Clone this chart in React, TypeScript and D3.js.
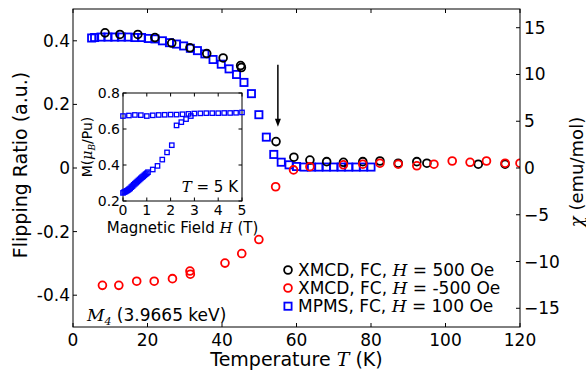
import React from 'react';
import * as d3 from 'd3';

// XMCD, FC, H = 500 Oe (flipping ratio, left axis)
const posT = [8.6, 12.6, 17.4, 22.0, 26.5, 31.4, 35.9, 40.3, 45.0, 45.2, 54.5, 59.3, 63.6, 68.1, 72.6, 77.8, 82.4, 87.3, 92.3, 95.0, 108.8, 116.0];
const posR = [0.425, 0.42, 0.42, 0.41, 0.393, 0.378, 0.36, 0.346, 0.322, 0.316, 0.083, 0.034, 0.025, 0.02, 0.018, 0.02, 0.022, 0.015, 0.02, 0.015, 0.012, 0.012];

// XMCD, FC, H = -500 Oe
const negT = [7.9, 12.3, 17.1, 21.8, 26.7, 31.4, 31.5, 40.8, 45.3, 49.9, 54.4, 59.2, 63.6, 72.6, 77.8, 82.4, 87.3, 92.3, 96.9, 101.8, 106.6, 111.0, 116.0, 120.0];
const negR = [-0.369, -0.369, -0.356, -0.356, -0.348, -0.324, -0.334, -0.299, -0.269, -0.225, -0.059, -0.006, 0.004, 0.01, 0.012, 0.015, 0.012, 0.007, 0.012, 0.022, 0.018, 0.022, 0.015, 0.015];

// MPMS, FC, H = 100 Oe (chi, right axis)
const mpmsT = [5.0, 5.8, 7.5, 9.4, 11.2, 13.0, 14.8, 16.6, 18.4, 20.2, 22.0, 24.0, 25.9, 27.8, 29.7, 31.5, 33.4, 35.4, 37.6, 39.8, 41.9, 43.9, 45.9, 47.9, 49.9, 51.9, 53.9, 55.9, 58.0, 60.0, 62, 64, 66, 68, 70, 72, 74, 76, 78, 80];
const mpmsChi = [13.9, 13.95, 14.0, 14.0, 14.0, 14.0, 14.0, 13.95, 13.95, 13.85, 13.8, 13.6, 13.4, 13.25, 13.05, 12.8, 12.55, 12.2, 11.6, 11.1, 10.6, 10.0, 9.15, 7.95, 5.7, 3.3, 1.45, 0.62, 0.34, 0.16, 0.1, 0.1, 0.1, 0.1, 0.1, 0.1, 0.1, 0.1, 0.1, 0.1];

// inset M(H) at T = 5 K
const upH = [0, 0.25, 0.5, 0.75, 1.0, 1.25, 1.5, 1.75, 2.0, 2.25, 2.5, 2.75, 3.0, 3.25, 3.5, 3.75, 4.0, 4.25, 4.5, 4.75, 5.0];
const upM = [0.672, 0.675, 0.678, 0.677, 0.672, 0.676, 0.678, 0.679, 0.68, 0.68, 0.682, 0.684, 0.686, 0.687, 0.688, 0.688, 0.688, 0.689, 0.689, 0.69, 0.692];
const virginH = [0, 0.05, 0.1, 0.15, 0.2, 0.25, 0.3, 0.35, 0.4, 0.45, 0.5, 0.55, 0.6, 0.65, 0.7, 0.75, 0.8, 0.85, 0.9, 0.95, 1.0, 1.05, 1.25, 1.45, 1.65, 1.85, 2.05, 2.25, 2.45, 2.65, 2.85];
const virginM = [0.245, 0.25, 0.252, 0.256, 0.26, 0.265, 0.27, 0.277, 0.283, 0.29, 0.296, 0.302, 0.308, 0.314, 0.32, 0.326, 0.332, 0.337, 0.343, 0.349, 0.354, 0.36, 0.375, 0.395, 0.43, 0.47, 0.51, 0.62, 0.638, 0.655, 0.672];

const xTicks = [0, 20, 40, 60, 80, 100, 120];
const leftTicks = [-0.4, -0.2, 0, 0.2, 0.4];
const rightTicks = [-15, -10, -5, 0, 5, 10, 15];
const insetXTicks = [0, 1, 2, 3, 4, 5];
const insetYTicks = [0.2, 0.4, 0.6, 0.8];

const SANS = 'DejaVu Sans';
const SERIF = 'DejaVu Serif';

const x = d3.scaleLinear().domain([0, 120]).range([73, 520]);
const yL = d3.scaleLinear().domain([-0.5, 0.5]).range([327, 9]);
const yR = d3.scaleLinear().domain([-17, 17]).range([327, 9]);
const ix = d3.scaleLinear().domain([0, 5]).range([123, 242]);
const iy = d3.scaleLinear().domain([0.2, 0.8]).range([201, 93]);

const fmtL = (v: number) => (v === 0 ? '0' : v.toFixed(1));
const fmtR = (v: number) => (v < 0 ? '\u2212' + Math.abs(v) : String(v));

export default function App() {
  const [x0, x1] = x.range();
  const [yb, yt] = yL.range();
  const [ix0, ix1] = ix.range();
  const [iyb, iyt] = iy.range();
  const tl = 4;
  const arrowX = x(55);
  const arrowTop = yL(0.325);
  const arrowTip = yL(0.13);

  return (
    <svg width={586} height={371} style={{ position: 'absolute', left: 0, top: 0, background: 'white' }}>
      <defs>
        <clipPath id="main-clip">
          <rect x={x0} y={yt} width={x1 - x0} height={yb - yt} />
        </clipPath>
      </defs>

      {/* data */}
      <g clipPath="url(#main-clip)" fill="none" strokeWidth={1.8}>
        {mpmsT.map((t, i) => (
          <rect key={'m' + i} x={x(t) - 3.6} y={yR(mpmsChi[i]) - 3.6} width={7.2} height={7.2} stroke="#0000ff" />
        ))}
        {posT.map((t, i) => (
          <circle key={'p' + i} cx={x(t)} cy={yL(posR[i])} r={3.9} stroke="#000" />
        ))}
        {negT.map((t, i) => (
          <circle key={'n' + i} cx={x(t)} cy={yL(negR[i])} r={3.9} stroke="#ff0000" />
        ))}
      </g>

      {/* frame & ticks */}
      <rect x={x0} y={yt} width={x1 - x0} height={yb - yt} fill="none" stroke="#000" strokeWidth={1} />
      {xTicks.map(t => (
        <g key={'xt' + t}>
          <line x1={x(t)} x2={x(t)} y1={yb} y2={yb - tl} stroke="#000" />
          <line x1={x(t)} x2={x(t)} y1={yt} y2={yt + tl} stroke="#000" />
          <text x={x(t)} y={346} textAnchor="middle" fontFamily={SANS} fontSize={17}>{t}</text>
        </g>
      ))}
      {leftTicks.map(t => (
        <g key={'lt' + t}>
          <line x1={x0} x2={x0 + tl} y1={yL(t)} y2={yL(t)} stroke="#000" />
          <text x={70} y={yL(t) + 6} textAnchor="end" fontFamily={SANS} fontSize={17}>{fmtL(t)}</text>
        </g>
      ))}
      {rightTicks.map(t => (
        <g key={'rt' + t}>
          <line x1={x1} x2={x1 - tl} y1={yR(t)} y2={yR(t)} stroke="#000" />
          <text x={524} y={yR(t) + 6} textAnchor="start" fontFamily={SANS} fontSize={17}>{fmtR(t)}</text>
        </g>
      ))}

      {/* axis labels */}
      <text x={(x0 + x1) / 2} y={366} textAnchor="middle" fontFamily={SANS} fontSize={19}>
        Temperature <tspan fontFamily={SERIF} fontStyle="italic">T</tspan> (K)
      </text>
      <text transform="translate(27,165) rotate(-90)" textAnchor="middle" fontFamily={SANS} fontSize={19}>
        Flipping Ratio (a.u.)
      </text>
      <text transform="translate(583,172) rotate(-90)" textAnchor="middle" fontFamily={SANS} fontSize={18}>
        <tspan fontFamily={SERIF} fontStyle="italic">χ</tspan> (emu/mol)
      </text>

      {/* arrow */}
      <line x1={arrowX} x2={arrowX} y1={arrowTop} y2={arrowTip - 7} stroke="#000" strokeWidth={1.5} />
      <path d={`M${arrowX - 3},${arrowTip - 8} L${arrowX + 3},${arrowTip - 8} L${arrowX},${arrowTip} Z`} fill="#000" />

      {/* M4 label */}
      <text x={87} y={321} fontFamily={SANS} fontSize={17}>
        <tspan fontFamily={SERIF} fontStyle="italic">M</tspan>
        <tspan fontSize={11} dy={4} fontFamily={SERIF} fontStyle="italic">4</tspan>
        <tspan dy={-4}> (3.9665 keV)</tspan>
      </text>

      {/* legend */}
      <g fontFamily={SANS} fontSize={17}>
        <circle cx={288} cy={270} r={3.9} fill="none" stroke="#000" strokeWidth={1.8} />
        <text x={298} y={276}>XMCD, FC, <tspan fontFamily={SERIF} fontStyle="italic">H</tspan> = 500 Oe</text>
        <circle cx={288} cy={288} r={3.9} fill="none" stroke="#ff0000" strokeWidth={1.8} />
        <text x={298} y={294}>XMCD, FC, <tspan fontFamily={SERIF} fontStyle="italic">H</tspan> = -500 Oe</text>
        <rect x={284.4} y={302.6} width={7.2} height={7.2} fill="none" stroke="#0000ff" strokeWidth={1.8} />
        <text x={298} y={312}>MPMS, FC, <tspan fontFamily={SERIF} fontStyle="italic">H</tspan> = 100 Oe</text>
      </g>

      {/* inset */}
      <rect x={ix0} y={iyt} width={ix1 - ix0} height={iyb - iyt} fill="white" stroke="#000" strokeWidth={1} />
      <g fill="none" stroke="#0000ff" strokeWidth={1.3}>
        {upH.map((h, i) => (
          <rect key={'u' + i} x={ix(h) - 2.2} y={iy(upM[i]) - 2.2} width={4.4} height={4.4} />
        ))}
        {virginH.map((h, i) => (
          <rect key={'v' + i} x={ix(h) - 2.2} y={iy(virginM[i]) - 2.2} width={4.4} height={4.4} />
        ))}
      </g>
      {insetXTicks.map(t => (
        <g key={'ixt' + t}>
          <line x1={ix(t)} x2={ix(t)} y1={iyb} y2={iyb - 3.5} stroke="#000" />
          <line x1={ix(t)} x2={ix(t)} y1={iyt} y2={iyt + 3.5} stroke="#000" />
          <text x={ix(t)} y={215} textAnchor="middle" fontFamily={SANS} fontSize={14}>{t}</text>
        </g>
      ))}
      {insetYTicks.map(t => (
        <g key={'iyt' + t}>
          <line x1={ix0} x2={ix0 + 3.5} y1={iy(t)} y2={iy(t)} stroke="#000" />
          <line x1={ix1} x2={ix1 - 3.5} y1={iy(t)} y2={iy(t)} stroke="#000" />
          <text x={120} y={iy(t) + 5} textAnchor="end" fontFamily={SANS} fontSize={14}>{t.toFixed(1)}</text>
        </g>
      ))}
      <text x={(ix0 + ix1) / 2} y={233} textAnchor="middle" fontFamily={SANS} fontSize={15}>
        Magnetic Field <tspan fontFamily={SERIF} fontStyle="italic">H</tspan> (T)
      </text>
      <text transform={`translate(92,${(iyt + iyb) / 2}) rotate(-90)`} textAnchor="middle" fontFamily={SANS} fontSize={14}>
        M(<tspan fontFamily={SERIF} fontStyle="italic">μ</tspan>
        <tspan fontFamily={SERIF} fontStyle="italic" fontSize={9} dy={3}>B</tspan>
        <tspan dy={-3}>/Pu)</tspan>
      </text>
      <text x={238} y={192} textAnchor="end" fontFamily={SANS} fontSize={15}>
        <tspan fontFamily={SERIF} fontStyle="italic">T</tspan> = 5 K
      </text>
    </svg>
  );
}
